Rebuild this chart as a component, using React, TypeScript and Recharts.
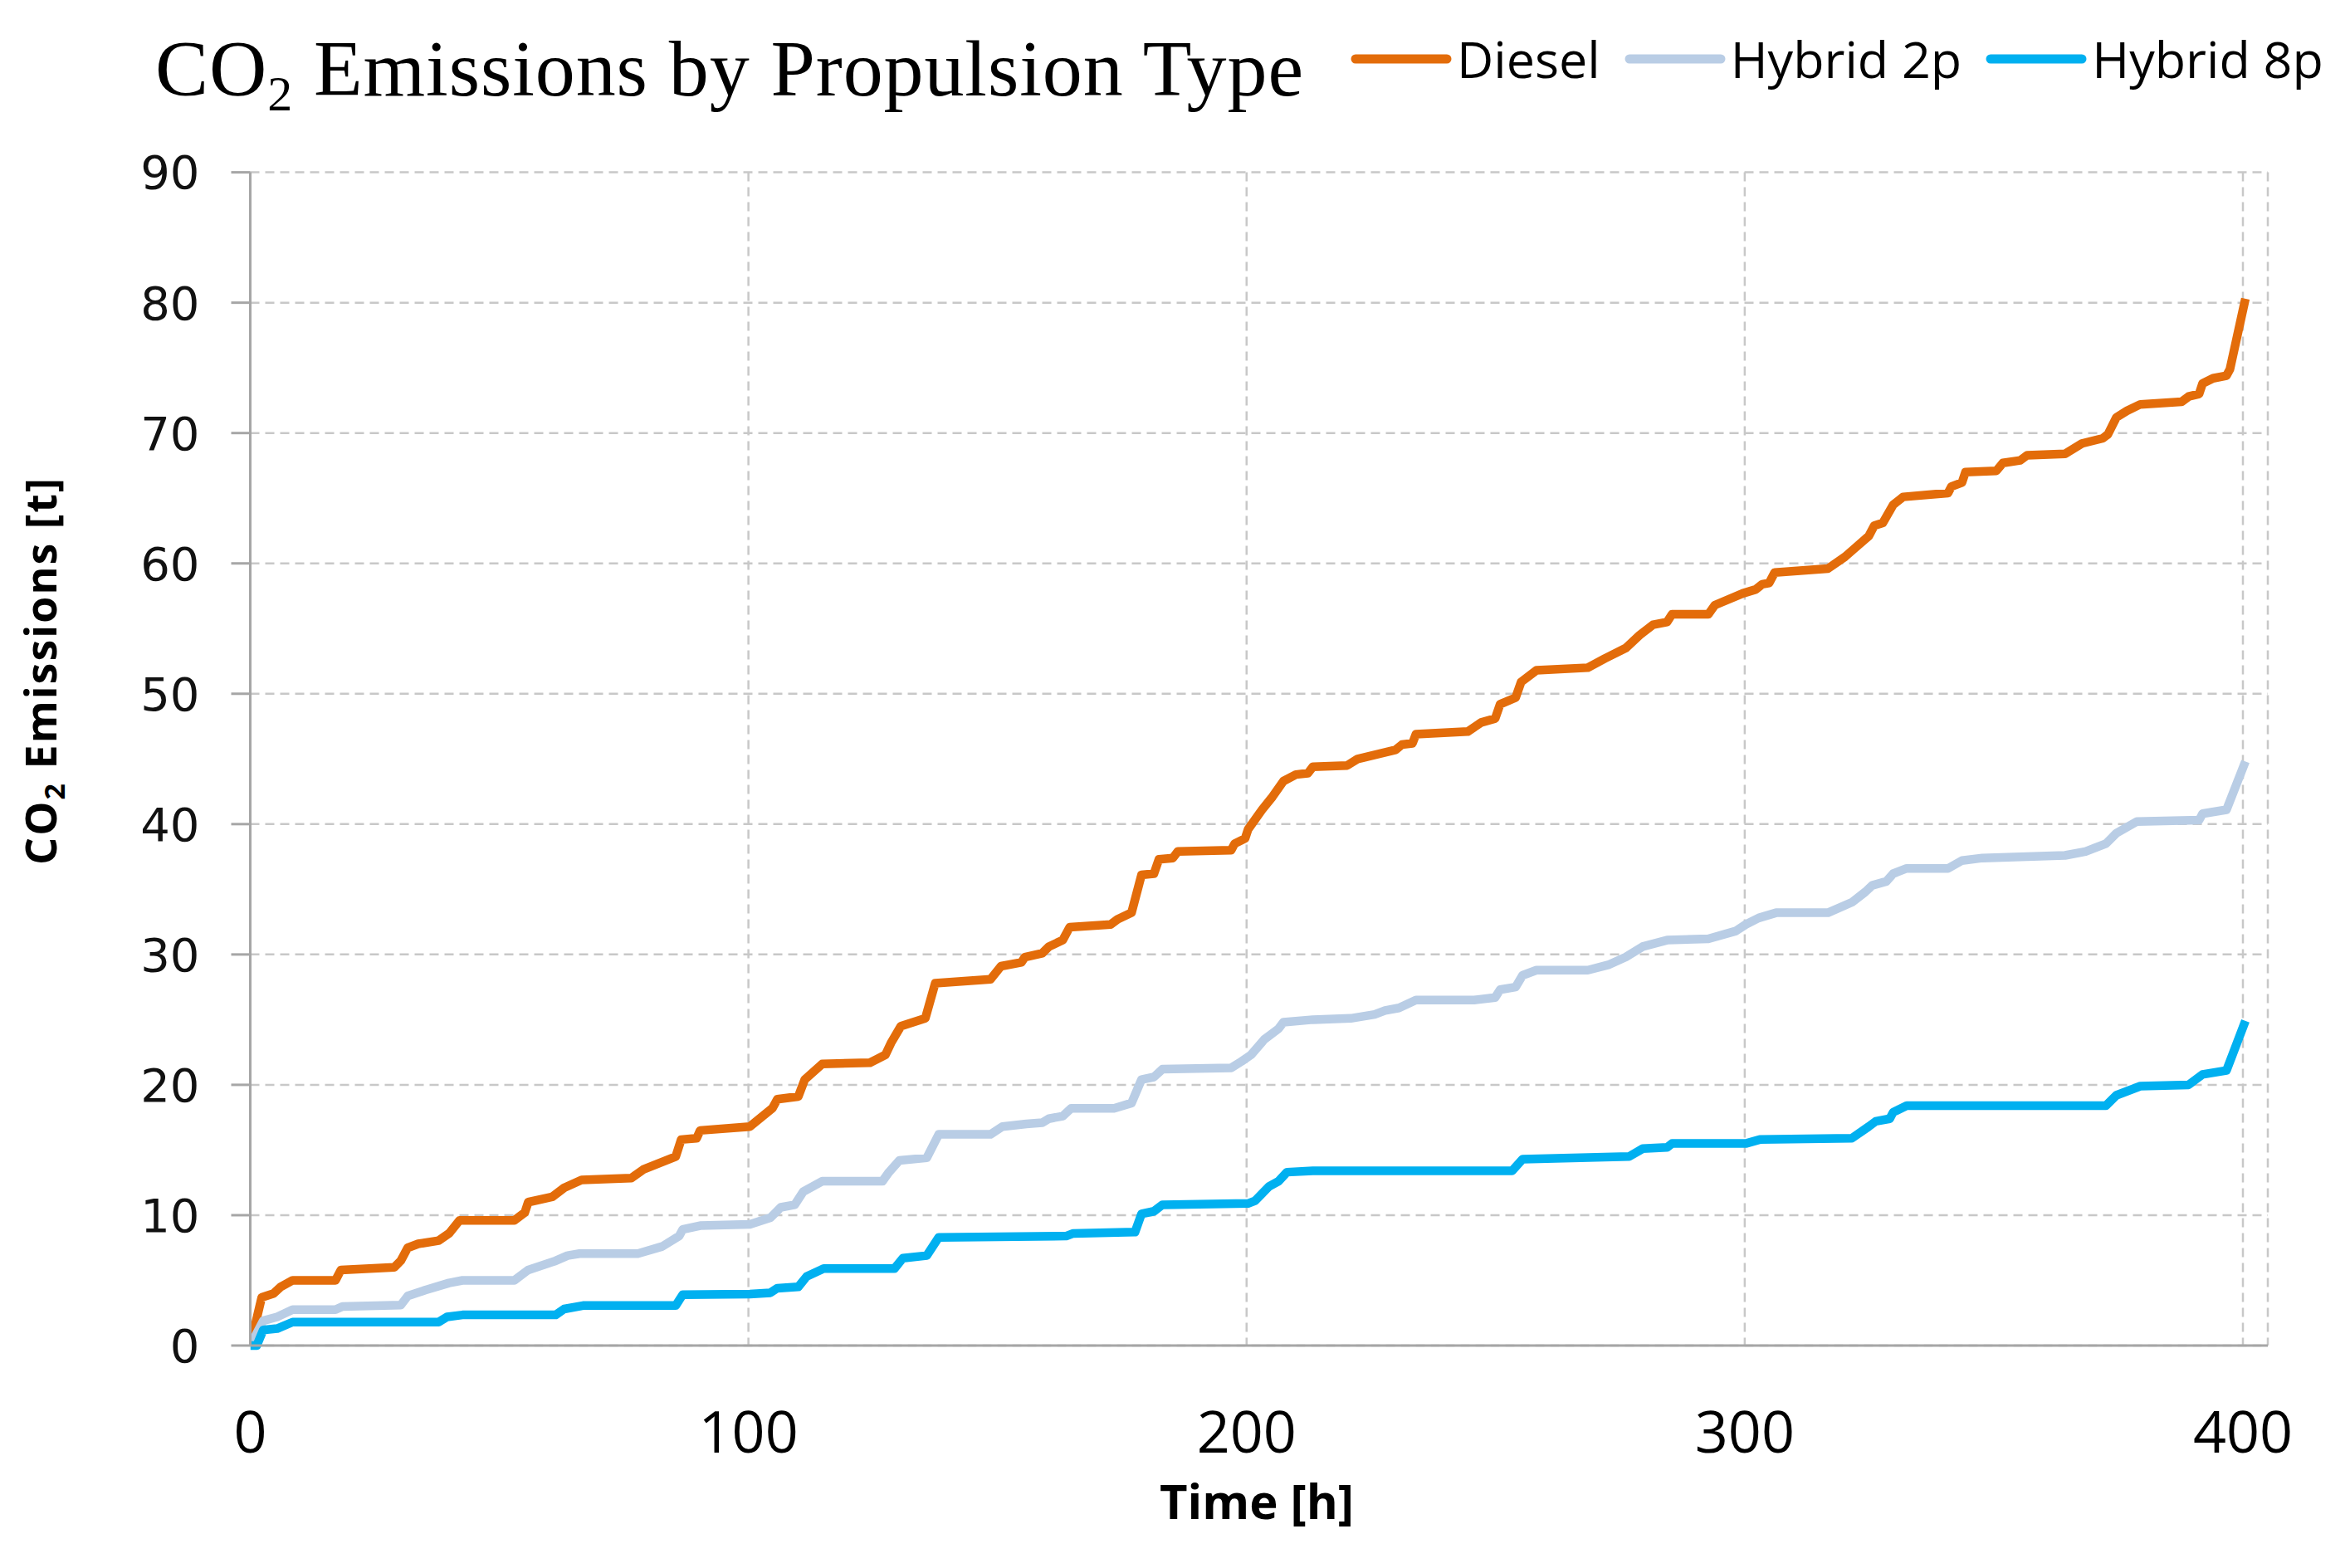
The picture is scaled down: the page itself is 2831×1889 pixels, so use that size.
import React from "react";
import { CartesianGrid, Legend, Line, LineChart, XAxis, YAxis } from "recharts";

// cumulative CO2 emissions [t] against time [h]
const diesel: [number, number][] = [
  [0, 0], [2.3, 3.7], [4.7, 4.0], [6.1, 4.5], [8.5, 5.0], [17.1, 5.0], [18.2, 5.8], [28.9, 6.0],
  [30.2, 6.5], [31.6, 7.5], [33.7, 7.8], [37.8, 8.05], [39.9, 8.6], [42, 9.6], [53, 9.6], [55.1, 10.2],
  [55.8, 11], [60.6, 11.4], [63, 12.1], [66.5, 12.7], [76.5, 12.85], [78.9, 13.5], [85.4, 14.5],
  [86.5, 15.8], [89.6, 15.9], [90.3, 16.5], [100.3, 16.8], [104.8, 18.2], [105.8, 18.9], [110, 19.1],
  [111.3, 20.4], [114.8, 21.6], [124.4, 21.7], [127.5, 22.3], [128.6, 23.2], [130.6, 24.5], [135.5, 25.1],
  [137.5, 27.8], [148.6, 28.1], [150.7, 29.1], [154.8, 29.4], [155.5, 29.8], [159, 30.1], [160.3, 30.6],
  [163.1, 31.1], [164.5, 32.1], [172.7, 32.3], [174.1, 32.7], [176.9, 33.2], [178.9, 36.1], [181.4, 36.2],
  [182.4, 37.3], [185.2, 37.4], [186.2, 37.9], [196.9, 38.0], [197.6, 38.5], [199.7, 38.9], [200.3, 39.6],
  [203.1, 41.1], [205.2, 42.1], [207.4, 43.3], [209.9, 43.8], [212.3, 43.9], [213.3, 44.4], [220.2, 44.5],
  [222.3, 45.0], [229.9, 45.7], [231.2, 46.1], [233.3, 46.2], [234, 46.9], [244.4, 47.1], [247.1, 47.8],
  [249.9, 48.1], [250.9, 49.2], [254, 49.7], [255.1, 50.9], [258.2, 51.8], [268.5, 52.0], [271.9, 52.7],
  [276.1, 53.5], [278.9, 54.5], [281.6, 55.3], [284.4, 55.5], [285.4, 56.1], [292.7, 56.1], [294, 56.8],
  [299.6, 57.7], [302.2, 58.0], [303.5, 58.4], [304.9, 58.5], [306, 59.3], [316.7, 59.6], [320.1, 60.5],
  [322.2, 61.2], [324.9, 62.1], [326, 62.9], [327.7, 63.1], [329.8, 64.5], [331.8, 65.1], [340.8, 65.4],
  [341.5, 65.9], [343.6, 66.2], [344.3, 67.0], [350.5, 67.1], [351.8, 67.7], [355.3, 67.9], [356.7, 68.3],
  [364.3, 68.4], [367.7, 69.2], [371.9, 69.6], [372.9, 69.9], [374.6, 71.2], [376.7, 71.7], [379.4, 72.2],
  [387.7, 72.4], [389.1, 72.8], [391.2, 73.0], [391.9, 73.8], [394, 74.2], [396.7, 74.4], [397.4, 74.9],
  [400.5, 80.3],
];

const hybrid2p: [number, number][] = [
  [0, 0], [2.6, 1.9], [5.4, 2.2], [8.5, 2.75], [17.1, 2.75], [18.5, 3.0], [30.2, 3.1], [31.6, 3.8],
  [35.1, 4.25], [39.9, 4.8], [42.6, 5.0], [53, 5.0], [55.8, 5.8], [61.3, 6.5], [63.7, 6.9], [66.1, 7.05],
  [77.8, 7.05], [82.7, 7.6], [86.1, 8.4], [86.8, 8.9], [90.3, 9.2], [100.3, 9.3], [104.4, 9.8],
  [106.5, 10.6], [109.3, 10.8], [111, 11.8], [114.8, 12.6], [126.9, 12.6], [128.2, 13.3], [130.3, 14.2],
  [135.8, 14.4], [138.2, 16.2], [148.6, 16.2], [151, 16.8], [155.8, 17.0], [159, 17.1], [160.3, 17.4],
  [163.1, 17.6], [164.8, 18.2], [173.4, 18.2], [176.9, 18.6], [178.9, 20.4], [181.4, 20.6], [183.1, 21.2],
  [196.9, 21.3], [199, 21.8], [200.9, 22.3], [203.6, 23.5], [206.4, 24.3], [207.4, 24.8], [213.3, 25.0],
  [220.9, 25.1], [225.7, 25.4], [227.8, 25.7], [230.6, 25.9], [234, 26.5], [245.7, 26.5], [249.9, 26.7],
  [250.9, 27.3], [254, 27.5], [255.4, 28.4], [258.2, 28.8], [268.5, 28.8], [272.6, 29.2], [276.1, 29.8],
  [279.5, 30.6], [284.4, 31.1], [292.7, 31.2], [298.2, 31.8], [300.2, 32.3], [302.8, 32.8], [306.3, 33.2],
  [316.7, 33.2], [321.5, 34.0], [324.2, 34.8], [325.6, 35.3], [328.4, 35.6], [329.8, 36.2], [332.5, 36.6],
  [340.8, 36.6], [343.6, 37.2], [347.7, 37.4], [364.3, 37.6], [368.4, 37.9], [372.5, 38.5], [374.6, 39.3],
  [378.7, 40.2], [391.2, 40.3], [391.9, 40.8], [396.7, 41.1], [400.5, 44.8],
];

const hybrid8p: [number, number][] = [
  [0, 0], [1.3, 0], [2.6, 1.2], [5.4, 1.3], [8.5, 1.8], [37.8, 1.8], [39.5, 2.2], [42.6, 2.35],
  [61.3, 2.35], [63, 2.8], [66.8, 3.07], [85.4, 3.07], [86.8, 3.9], [100.3, 3.95], [104.4, 4.05],
  [105.8, 4.4], [110, 4.5], [111.7, 5.3], [115.1, 5.9], [129.3, 5.9], [131, 6.7], [135.8, 6.9],
  [138.2, 8.3], [163.8, 8.4], [165.2, 8.6], [177.6, 8.7], [178.9, 10.1], [181.4, 10.3], [183.1, 10.8],
  [200.3, 10.9], [201.7, 11.1], [204.5, 12.2], [206.4, 12.6], [208.1, 13.3], [213.3, 13.4], [253.3, 13.4],
  [255.4, 14.3], [276.8, 14.5], [279.5, 15.1], [284.4, 15.2], [285.4, 15.5], [300.2, 15.5], [303, 15.8],
  [321.5, 15.9], [324.9, 16.8], [326.3, 17.2], [329.1, 17.4], [329.8, 17.9], [332.5, 18.4], [372.5, 18.4],
  [374.6, 19.2], [379.4, 19.9], [389.1, 20.0], [391.9, 20.8], [396.7, 21.1], [400.5, 24.9],
];

const xTicks = [0, 100, 200, 300, 400];
const yTicks = [0, 10, 20, 30, 40, 50, 60, 70, 80, 90];

const toRows = (pts: [number, number][]) => pts.map(([h, t]) => ({ h, t }));

const series = [
  { name: "Diesel", color: "#E36C0A", pts: diesel },
  { name: "Hybrid 2p", color: "#B9CDE5", pts: hybrid2p },
  { name: "Hybrid 8p", color: "#00B0F0", pts: hybrid8p },
];

const sans = "'Open Sans', sans-serif";

function YTitle() {
  return (
    <text
      x={68}
      y={808}
      transform="rotate(-90, 68, 808)"
      textAnchor="middle"
      fontFamily={sans}
      fontWeight={700}
      fontSize={52}
      letterSpacing={2}
      fill="#000"
    >
      CO<tspan fontSize={34} dy={10}>2</tspan>
      <tspan dy={-10}> Emissions [t]</tspan>
    </text>
  );
}

function XTitle() {
  return (
    <text x={1514} y={1830} textAnchor="middle" fontFamily={sans} fontWeight={700} fontSize={58} fill="#000">
      Time [h]
    </text>
  );
}

function LegendRow({ payload }: any) {
  return (
    <div style={{ display: "flex", alignItems: "center", fontFamily: sans, fontSize: 61, color: "#000" }}>
      {(payload || []).map((p: any) => (
        <div key={p.value} style={{ display: "flex", alignItems: "center", marginRight: 29 }}>
          <svg width={122} height={14} style={{ marginRight: 6 }}>
            <line x1={6} y1={7} x2={116} y2={7} stroke={p.color} strokeWidth={11} strokeLinecap="round" />
          </svg>
          <span style={{ lineHeight: 1 }}>{p.value}</span>
        </div>
      ))}
    </div>
  );
}

export default function App() {
  return (
    <div style={{ position: "absolute", left: 0, top: 0, width: 2831, height: 1889, background: "#fff" }}>
      <svg width={2831} height={200} style={{ position: "absolute", left: 0, top: 0 }}>
        <text
          x={187}
          y={115}
          textLength={1383}
          lengthAdjust="spacing"
          fontFamily="'Liberation Serif', serif"
          fontSize={96}
          fill="#000"
        >
          CO<tspan fontSize={60} dy={18}>2</tspan>
          <tspan dy={-18}> Emissions by Propulsion Type</tspan>
        </text>
      </svg>
      <LineChart
        width={2831}
        height={1889}
        margin={{ top: 207.6, right: 99, bottom: 0, left: 0 }}
        style={{ position: "absolute", left: 0, top: 0 }}
      >
        <CartesianGrid stroke="#c8c8c8" strokeWidth={2.5} strokeDasharray="11 7" />
        <XAxis
          type="number"
          dataKey="h"
          domain={[0, 405]}
          ticks={xTicks}
          allowDataOverflow
          height={268}
          tickLine={false}
          tickSize={0}
          tickMargin={79}
          stroke="#a6a6a6"
          strokeWidth={3}
          tick={{ fontFamily: sans, fontSize: 70, fill: "#000" }}
          label={XTitle}
        />
        <YAxis
          type="number"
          dataKey="t"
          domain={[0, 90]}
          ticks={yTicks}
          width={301.5}
          tickSize={23}
          tickMargin={38}
          stroke="#a6a6a6"
          strokeWidth={3}
          tickLine={{ stroke: "#a6a6a6", strokeWidth: 3 }}
          tick={{ fontFamily: "'DejaVu Sans', sans-serif", fontSize: 56, fill: "#111" }}
          label={YTitle}
        />
        <Legend
          layout="horizontal"
          verticalAlign="middle"
          align="center"
          content={LegendRow}
          wrapperStyle={{ position: "absolute", top: 40, left: 1627, width: "auto" }}
        />
        {series.map((s) => (
          <Line
            key={s.name}
            name={s.name}
            data={toRows(s.pts)}
            dataKey="t"
            type="linear"
            stroke={s.color}
            strokeWidth={10.5}
            strokeLinejoin="round"
            dot={false}
            activeDot={false}
            isAnimationActive={false}
          />
        ))}
      </LineChart>
    </div>
  );
}
